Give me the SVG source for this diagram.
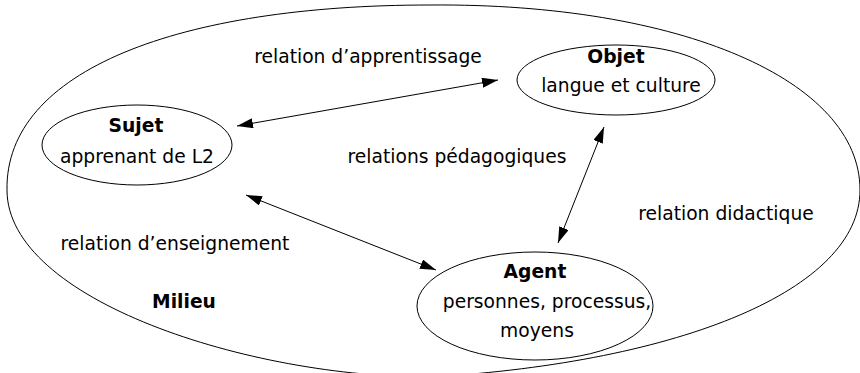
<svg xmlns="http://www.w3.org/2000/svg" width="860" height="373" viewBox="0 0 860 373">
<style>
  .shape { fill: none; stroke: #000; stroke-width: 1; }
  .t { font-family: "DejaVu Sans", Verdana, sans-serif; font-size: 18.7px; fill: #000; text-anchor: middle; }
  .b { font-weight: bold; }
  .conn { stroke: #000; stroke-width: 1; fill: none; marker-start: url(#ah); marker-end: url(#ah); }
</style>
<defs>
  <marker id="ah" markerUnits="userSpaceOnUse" markerWidth="16" markerHeight="10" refX="16" refY="5" orient="auto-start-reverse">
    <path d="M0,0 L16,5 L0,10 Z" fill="#000"/>
  </marker>
</defs>
<rect width="860" height="373" fill="#fff"/>
<g id="milieu">
  <path class="shape" d="M 430,5 C 680,3 860,80 860,190 C 860,290 680,362 432,377 C 250,378 7,300 7,190 C 5,70 180,5 430,5 Z"/>
  <text class="t b" x="184" y="308">Milieu</text>
</g>
<g id="sujet">
  <ellipse class="shape" cx="137" cy="145" rx="95" ry="40"/>
  <text class="t b" x="136" y="132">Sujet</text>
  <text class="t" x="137" y="163">apprenant de L2</text>
</g>
<g id="objet">
  <ellipse class="shape" cx="616" cy="80" rx="99" ry="35"/>
  <text class="t b" x="616" y="63">Objet</text>
  <text class="t" x="621" y="92">langue et culture</text>
</g>
<g id="agent">
  <ellipse class="shape" cx="535" cy="306" rx="118" ry="54"/>
  <text class="t b" x="535" y="278">Agent</text>
  <text class="t" x="547" y="308">personnes, processus,</text>
  <text class="t" x="537" y="337">moyens</text>
</g>
<g id="connectors">
  <line class="conn" x1="237" y1="126" x2="498" y2="80"/>
  <line class="conn" x1="246" y1="195" x2="436" y2="270"/>
  <line class="conn" x1="604" y1="127" x2="558" y2="243"/>
</g>
<g id="labels">
  <text class="t" x="368" y="63">relation d’apprentissage</text>
  <text class="t" x="457" y="163">relations pédagogiques</text>
  <text class="t" x="726" y="220">relation didactique</text>
  <text class="t" x="175" y="250">relation d’enseignement</text>
</g>
</svg>
